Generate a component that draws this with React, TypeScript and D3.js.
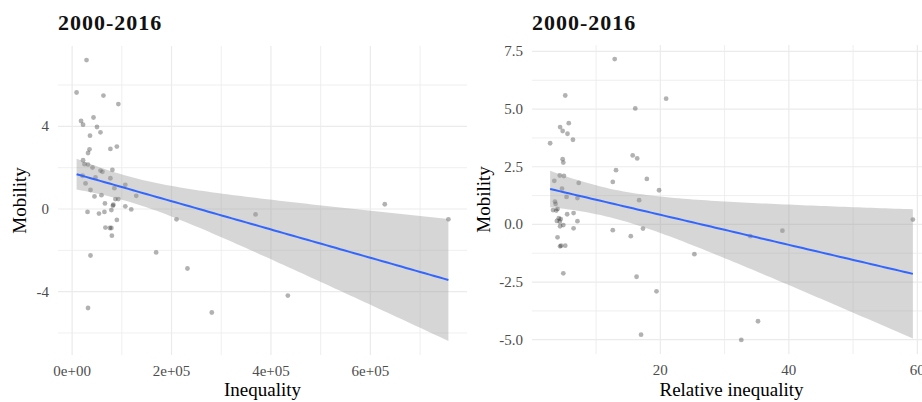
import React, { useEffect, useRef } from 'react';
import * as d3 from 'd3';

// left panel: absolute inequality vs mobility
const inequality = [
  29000, 9000, 63000, 93000, 18000, 22000, 43000, 50000, 57000, 36000,
  90000, 77000, 35000, 32000, 22000, 25000, 32000, 41000, 57000, 61000,
  81000, 21000, 47000, 77000, 27000, 107000, 37000, 85000, 59000, 45000,
  129000, 87000, 93000, 66000, 83000, 82000, 107000, 119000, 79000, 31000,
  54000, 65000, 90000, 67000, 76000, 79000, 80000, 37000, 32000, 169000,
  210000, 232000, 281000, 369000, 434000, 629000, 757000
];
const mobilityAbs = [
  7.21, 5.64, 5.49, 5.08, 4.26, 4.08, 4.43, 3.97, 3.71, 3.55,
  3.02, 2.91, 2.89, 2.71, 2.36, 2.17, 2.15, 2.01, 1.86, 1.80,
  1.89, 1.61, 1.53, 1.49, 1.24, 1.17, 0.92, 1.01, 0.67, 0.61,
  0.64, 0.48, 0.48, 0.27, 0.21, 0.16, 0.13, -0.02, -0.05, -0.14,
  -0.22, -0.14, -0.53, -0.90, -0.92, -0.92, -1.29, -2.25, -4.79, -2.10,
  -0.50, -2.88, -5.01, -0.26, -4.19, 0.23, -0.50
];

// right panel: relative inequality vs mobility
const relInequality = [
  12.9, 5.2, 20.9, 16.1, 4.4, 4.8, 5.75, 5.55, 6.4, 2.85,
  15.7, 16.4, 4.8, 4.9, 13.1, 4.35, 5.0, 3.5, 12.6, 17.9,
  7.3, 19.8, 4.7, 5.4, 7.1, 16.7, 3.6, 3.7, 3.3, 3.8,
  4.0, 5.5, 6.5, 4.2, 4.5, 7.1, 4.35, 3.9, 4.9, 4.4,
  6.5, 12.6, 15.4, 17.3, 4.0, 4.55, 4.4, 5.2, 4.9, 16.3,
  19.4, 25.3, 17.0, 32.6, 35.2, 34.0, 39.0, 59.3
];
const mobilityRel = [
  7.17, 5.59, 5.45, 5.03, 4.22, 4.05, 4.39, 3.93, 3.67, 3.52,
  2.99, 2.86, 2.83, 2.68, 2.35, 2.12, 2.10, 1.89, 1.84, 1.97,
  1.80, 1.48, 1.55, 1.19, 1.14, 1.05, 0.99, 0.89, 0.62, 0.60,
  0.67, 0.44, 0.49, 0.27, 0.23, 0.14, 0.12, 0.15, -0.03, -0.08,
  -0.17, -0.25, -0.51, -0.18, -0.56, -0.92, -0.95, -0.92, -2.12, -2.27,
  -2.90, -1.29, -4.78, -5.01, -4.20, -0.51, -0.27, 0.21
];

const titles = ['2000-2016', '2000-2016'];
const xTitles = ['Inequality', 'Relative inequality'];
const yTitle = 'Mobility';

const ineqTicks = [0, 200000, 400000, 600000];
const ineqMinor = [100000, 300000, 500000, 700000];
const mobTicksAbs = [-4, 0, 4];
const mobMinorAbs = [-6, -2, 2, 6];
const relTicks = [20, 40, 60];
const relMinor = [10, 30, 50];
const mobTicksRel = [-5, -2.5, 0, 2.5, 5, 7.5];
const mobMinorRel = [-3.75, -1.25, 1.25, 3.75, 6.25];

const FONT = '"Liberation Serif", "DejaVu Serif", serif';
const T975 = 2.004; // t quantile, ~55 df

// linear fit with 95% confidence band, like geom_smooth(method = "lm")
function lmBand(xs, ys, n = 80) {
  const N = xs.length;
  const mx = d3.mean(xs), my = d3.mean(ys);
  const sxx = d3.sum(xs, x => (x - mx) * (x - mx));
  const sxy = d3.sum(xs.map((x, i) => (x - mx) * (ys[i] - my)));
  const b = sxy / sxx, a = my - b * mx;
  const rss = d3.sum(xs.map((x, i) => (ys[i] - a - b * x) ** 2));
  const s = Math.sqrt(rss / (N - 2));
  const [x0, x1] = d3.extent(xs);
  return d3.range(n).map(i => {
    const x = x0 + (x1 - x0) * i / (n - 1);
    const fit = a + b * x;
    const se = s * Math.sqrt(1 / N + (x - mx) ** 2 / sxx);
    return { x, fit, lo: fit - T975 * se, hi: fit + T975 * se };
  });
}

function expand([a, b]) {
  const d = (b - a) * 0.05;
  return [a - d, b + d];
}

function sciFmt(v) {
  const [m, e] = v.toExponential(0).split('e');
  const sign = e[0] === '-' ? '-' : '+';
  const ex = e.replace(/[+-]/, '').padStart(2, '0');
  return m + 'e' + sign + ex;
}

function drawPanel(svg, p) {
  const band = lmBand(p.xs, p.ys);
  const x = d3.scaleLinear().domain(expand(d3.extent(p.xs))).range([p.left, p.right]);
  const yLo = Math.min(d3.min(p.ys), d3.min(band, d => d.lo));
  const yHi = Math.max(d3.max(p.ys), d3.max(band, d => d.hi));
  const y = d3.scaleLinear().domain(expand([yLo, yHi])).range([p.bottom, p.top]);

  const g = svg.append('g');
  const grid = g.append('g');
  p.xMinor.forEach(v => grid.append('line')
    .attr('x1', x(v)).attr('x2', x(v)).attr('y1', p.top).attr('y2', p.bottom)
    .attr('stroke', '#ebebeb').attr('stroke-width', 0.8));
  p.yMinor.forEach(v => grid.append('line')
    .attr('x1', p.left).attr('x2', p.right).attr('y1', y(v)).attr('y2', y(v))
    .attr('stroke', '#ebebeb').attr('stroke-width', 0.8));
  p.xTicks.filter(v => x(v) >= p.left).forEach(v => grid.append('line')
    .attr('x1', x(v)).attr('x2', x(v)).attr('y1', p.top).attr('y2', p.bottom)
    .attr('stroke', '#ebebeb').attr('stroke-width', 1.2));
  p.yTicks.forEach(v => grid.append('line')
    .attr('x1', p.left).attr('x2', p.right).attr('y1', y(v)).attr('y2', y(v))
    .attr('stroke', '#ebebeb').attr('stroke-width', 1.2));

  g.append('g').selectAll('circle')
    .data(p.xs.map((v, i) => [v, p.ys[i]]))
    .enter().append('circle')
    .attr('cx', d => x(d[0])).attr('cy', d => y(d[1])).attr('r', 2.4)
    .attr('fill', '#000').attr('fill-opacity', 0.3);

  const area = d3.area().x(d => x(d.x)).y0(d => y(d.lo)).y1(d => y(d.hi));
  g.append('path').attr('d', area(band)).attr('fill', '#999999').attr('fill-opacity', 0.4);
  const line = d3.line().x(d => x(d.x)).y(d => y(d.fit));
  g.append('path').attr('d', line(band)).attr('fill', 'none')
    .attr('stroke', '#3366FF').attr('stroke-width', 2);

  // tick labels
  g.append('g').selectAll('text').data(p.xTicks).enter().append('text')
    .attr('x', d => x(d)).attr('y', p.bottom + 21).attr('text-anchor', 'middle')
    .attr('font-size', 15).attr('fill', '#4d4d4d').text(p.xFmt);
  g.append('g').selectAll('text').data(p.yTicks).enter().append('text')
    .attr('x', p.left - 9).attr('y', d => y(d) + 5).attr('text-anchor', 'end')
    .attr('font-size', 15).attr('fill', '#4d4d4d').text(p.yFmt);

  g.append('text').attr('x', (p.left + p.right) / 2).attr('y', 396)
    .attr('text-anchor', 'middle').attr('font-size', 19).attr('fill', '#000').text(p.xTitle);
  g.append('text').attr('transform', `translate(${p.yTitleX},${(p.top + p.bottom) / 2}) rotate(-90)`)
    .attr('text-anchor', 'middle').attr('font-size', 19).attr('fill', '#000').text(yTitle);
  g.append('text').attr('x', p.left).attr('y', 30)
    .attr('font-size', 22).attr('font-weight', 600).attr('letter-spacing', 1)
    .attr('fill', '#111').text(p.title);
}

export default function App() {
  const ref = useRef(null);
  useEffect(() => {
    const svg = d3.select(ref.current);
    svg.selectAll('*').remove();
    drawPanel(svg, {
      xs: inequality, ys: mobilityAbs, left: 58, right: 467, top: 46, bottom: 355,
      xTicks: ineqTicks, xMinor: ineqMinor, yTicks: mobTicksAbs, yMinor: mobMinorAbs,
      xFmt: sciFmt, yFmt: d => String(d), xTitle: xTitles[0], title: titles[0], yTitleX: 26
    });
    drawPanel(svg, {
      xs: relInequality, ys: mobilityRel, left: 532, right: 931, top: 45, bottom: 354,
      xTicks: relTicks, xMinor: relMinor, yTicks: mobTicksRel, yMinor: mobMinorRel,
      xFmt: d => String(d), yFmt: d => d.toFixed(1), xTitle: xTitles[1], title: titles[1], yTitleX: 490
    });
  }, []);
  return (
    <svg ref={ref} width={922} height={402}
      style={{ position: 'absolute', left: 0, top: 0, background: '#fff', fontFamily: FONT }} />
  );
}
